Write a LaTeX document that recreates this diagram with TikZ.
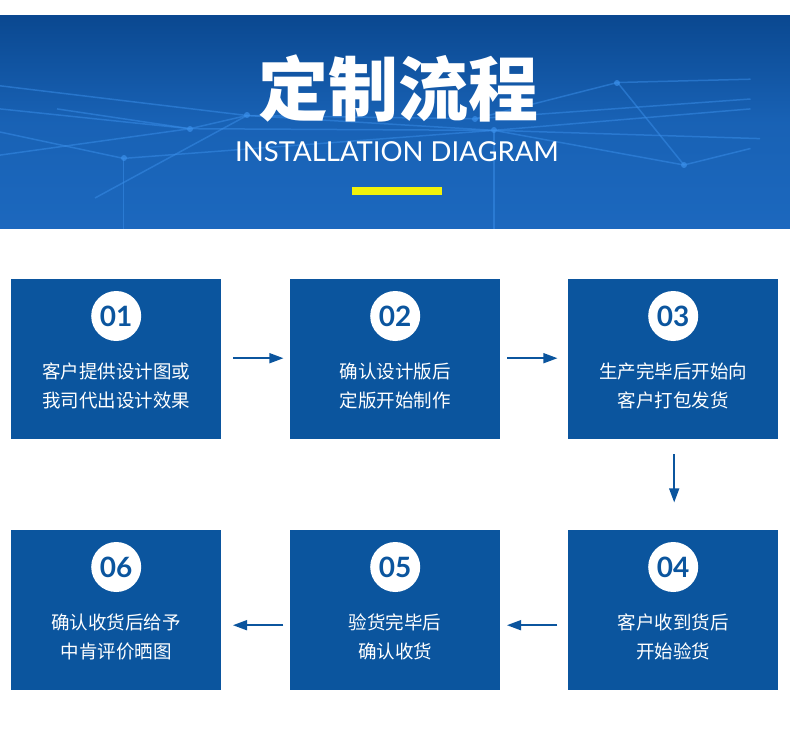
\documentclass[tikz,border=0pt]{standalone}
\usepackage{fontspec}
\setmainfont{Noto Sans}
\newfontfamily\cjk{Noto Sans CJK SC}
\newfontfamily\lightf{Lato}
\usetikzlibrary{arrows.meta}
\definecolor{boxblue}{HTML}{0B559E}
\definecolor{bannerA}{HTML}{0A4890}
\definecolor{bannerB}{HTML}{1C68BE}
\definecolor{netc}{HTML}{3A8FEA}
\definecolor{barYellow}{HTML}{F2F20A}
\begin{document}
\begin{tikzpicture}[x=1pt,y=-1pt,
  stepbox/.style={fill=boxblue,minimum width=210pt,minimum height=160pt,anchor=north west,inner sep=0},
  numc/.style={circle,fill=white,minimum size=50pt,inner sep=0,text=boxblue,font=\lightf\bfseries\fontsize{28}{28}\selectfont},
  lbl/.style={text=white,font=\cjk\fontsize{18.5}{29}\selectfont,align=center},
  arr/.style={-{Triangle[length=14pt,width=10pt]},line width=1.6pt,draw=boxblue,fill=boxblue}]
\useasboundingbox (0,0) rectangle (790,731);
\fill[white] (0,0) rectangle (790,731);
% banner
\shade[top color=bannerA,bottom color=bannerB,middle color=bannerB!80!bannerA] (0,15) rectangle (790,228);
\begin{scope}
\clip (0,15) rectangle (790,228);
\foreach \a/\b/\c/\d in {0/330/200/390, 200/390/520/395, 520/395/790/330, 0/470/200/390, 200/390/260/350, 260/350/500/360, 500/360/790/300,
 0/400/130/480, 130/480/520/395, 520/395/720/500, 60/330/200/390, 260/350/520/395, 520/395/800/420, 100/600/260/350, 520/395/520/700, 500/360/650/250, 650/250/790/240, 0/260/260/350, 650/250/720/500, 720/500/790/450, 130/480/130/700}{
  \draw[netc,opacity=0.5,line width=1.5pt] (\a*0.95,\b*0.33) -- (\c*0.95,\d*0.33);}
\foreach \p in {(190,129),(247,115),(494,130),(475,119),(124,158),(617,83),(684,165)}{\fill[netc,opacity=0.7] \p circle (3pt);}
\end{scope}
\node[text=white,font=\cjk\bfseries\fontsize{70}{70}\selectfont] (title) at (398,88) {定制流程};
\node[text=white,font=\lightf\fontsize{27.5}{27.5}\selectfont] (sub) at (397,152) {INSTALLATION DIAGRAM};
\fill[barYellow] (352,187) rectangle (442,195);
% boxes
\node[stepbox] (b1) at (11,279) {};
\node[stepbox] (b2) at (290,279) {};
\node[stepbox] (b3) at (568,279) {};
\node[stepbox] (b4) at (568,530) {};
\node[stepbox] (b5) at (290,530) {};
\node[stepbox] (b6) at (11,530) {};
\foreach \b/\n/\t in {b1/01/{客户提供设计图或\\我司代出设计效果},b2/02/{确认设计版后\\定版开始制作},b3/03/{生产完毕后开始向\\客户打包发货},b4/04/{客户收到货后\\开始验货},b5/05/{验货完毕后\\确认收货},b6/06/{确认收货后给予\\中肯评价晒图}}{
  \node[numc] (\b n) at ([yshift=-37pt]\b.north) {\n};
  \node[lbl] (\b t) at ([yshift=-27pt]\b.center) {\t};
}
\draw[arr] (b1.east) ++(12,-1) coordinate (a1s) -- ++(50,0) coordinate (a1e);
\draw[arr] (b2.east) ++(7,-1) coordinate (a2s) -- ++(50,0) coordinate (a2e);
\draw[arr] (b3.south) ++(1,15) coordinate (a3s) -- ++(0,48) coordinate (a3e);
\draw[arr] (b4.west) ++(-11,15) coordinate (a4s) -- ++(-50,0) coordinate (a4e);
\draw[arr] (b5.west) ++(-7,15) coordinate (a5s) -- ++(-50,0) coordinate (a5e);
\end{tikzpicture}
\end{document}
